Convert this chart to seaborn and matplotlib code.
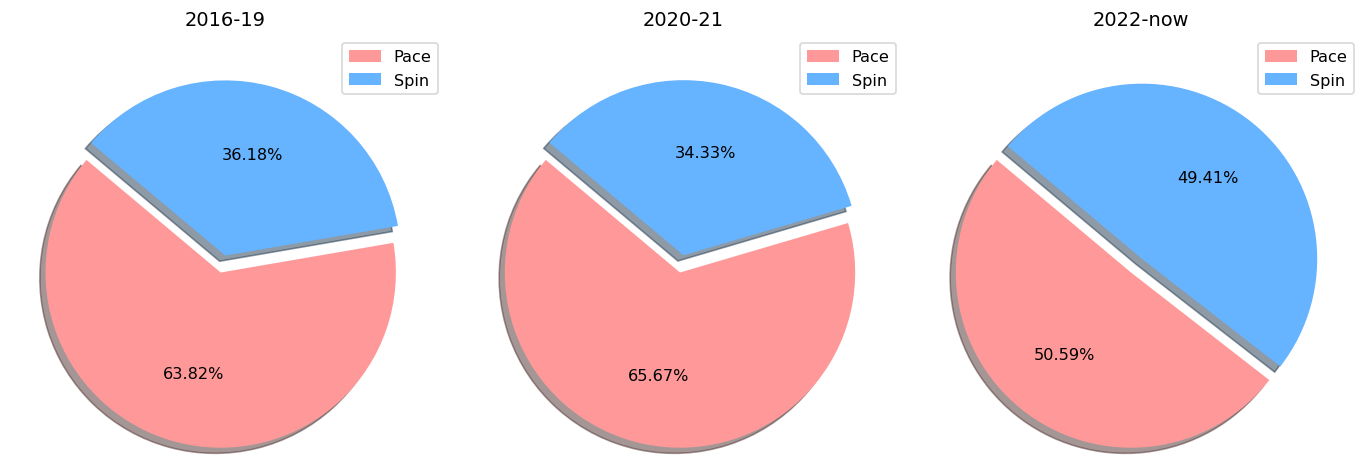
import numpy as np
import pandas as pd
import matplotlib
matplotlib.use('Agg')
import matplotlib.pyplot as plt
import seaborn as sns

plt.rcParams['font.family'] = ['DejaVu Sans']

periods = ['2016-19', '2020-21', '2022-now']
bowl_types = ['Pace', 'Spin']
pace_pct = [63.82, 65.67, 50.59]
spin_pct = [36.18, 34.33, 49.41]
colors = sns.color_palette(['#ff9999', '#66b3ff'])

# layout in pixels (figure 1362 x 477)
W, H, DPI = 1362, 477, 116
ax_right = [446, 904, 1362]
ax_width = 442
ax_top = 36
pie_cx = [220.7, 680.0, 1131.0]
pie_cy = 273.5
pie_r = 175.2

fig = plt.figure(figsize=(W / DPI, H / DPI), dpi=DPI)

for i, period in enumerate(periods):
    left = ax_right[i] - ax_width
    ax = fig.add_axes([left / W, 0, ax_width / W, (H - ax_top) / H])
    ax.pie([pace_pct[i], spin_pct[i]], colors=colors, autopct='%1.2f%%',
           startangle=140, explode=(0, 0.1), shadow=True)
    ax.set_aspect('auto')
    ax.set_xlim((left - pie_cx[i]) / pie_r, (ax_right[i] - pie_cx[i]) / pie_r)
    ax.set_ylim(-(H - pie_cy) / pie_r, (pie_cy - ax_top) / pie_r)
    ax.set_title(period)
    ax.legend(bowl_types, loc='upper right')

plt.savefig('out.png', dpi=DPI)
